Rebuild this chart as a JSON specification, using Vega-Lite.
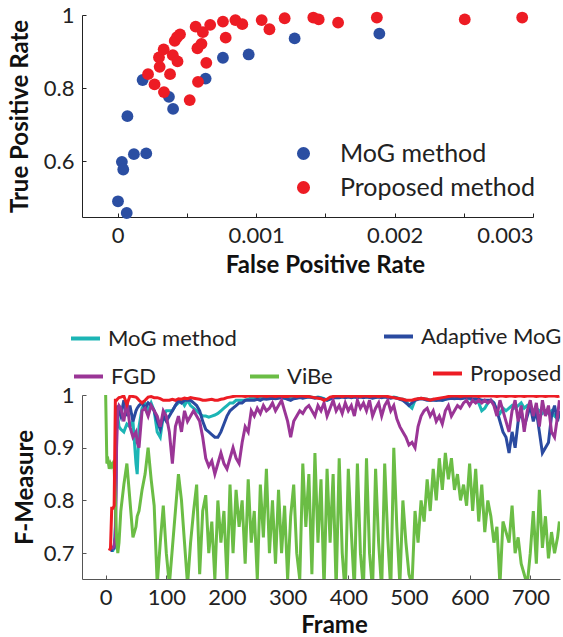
{
  "$schema": "https://vega.github.io/schema/vega-lite/v6.json",
  "padding": {"left": 8, "top": 4, "right": 0, "bottom": 0},
  "config": {
    "font": "Lato",
    "view": {"stroke": null},
    "axis": {"grid": false, "domainColor": "#222", "tickColor": "#222", "labelColor": "#222", "titleColor": "#111", "labelFont": "Lato", "titleFont": "Lato", "labelFontSize": 22, "titleFontSize": 24, "titleFontWeight": "bold", "tickSize": -4, "labelPadding": 12},
    "legend": {"padding": 0, "labelFont": "Lato", "labelColor": "#222", "labelLimit": 400}
  },
  "spacing": 43,
  "columns": 1,
  "concat": [
    {
      "width": 451,
      "height": 202,
      "data": {"values": [
        {"fpr": 0.00007, "tpr": 0.723, "m": "MoG method"},
        {"fpr": 0.00018, "tpr": 0.822, "m": "MoG method"},
        {"fpr": 0.00003, "tpr": 0.598, "m": "MoG method"},
        {"fpr": 0.00004, "tpr": 0.577, "m": "MoG method"},
        {"fpr": 0.000117, "tpr": 0.619, "m": "MoG method"},
        {"fpr": 0.000206, "tpr": 0.621, "m": "MoG method"},
        {"fpr": 0.000002, "tpr": 0.49, "m": "MoG method"},
        {"fpr": 0.000065, "tpr": 0.458, "m": "MoG method"},
        {"fpr": 0.00037, "tpr": 0.776, "m": "MoG method"},
        {"fpr": 0.0004, "tpr": 0.743, "m": "MoG method"},
        {"fpr": 0.000635, "tpr": 0.826, "m": "MoG method"},
        {"fpr": 0.00076, "tpr": 0.883, "m": "MoG method"},
        {"fpr": 0.000946, "tpr": 0.892, "m": "MoG method"},
        {"fpr": 0.001278, "tpr": 0.936, "m": "MoG method"},
        {"fpr": 0.00189, "tpr": 0.949, "m": "MoG method"},
        {"fpr": 0.000219, "tpr": 0.838, "m": "Proposed method"},
        {"fpr": 0.000266, "tpr": 0.81, "m": "Proposed method"},
        {"fpr": 0.000334, "tpr": 0.789, "m": "Proposed method"},
        {"fpr": 0.000303, "tpr": 0.858, "m": "Proposed method"},
        {"fpr": 0.000298, "tpr": 0.884, "m": "Proposed method"},
        {"fpr": 0.000332, "tpr": 0.906, "m": "Proposed method"},
        {"fpr": 0.000378, "tpr": 0.838, "m": "Proposed method"},
        {"fpr": 0.000398, "tpr": 0.89, "m": "Proposed method"},
        {"fpr": 0.000432, "tpr": 0.873, "m": "Proposed method"},
        {"fpr": 0.000412, "tpr": 0.929, "m": "Proposed method"},
        {"fpr": 0.000428, "tpr": 0.939, "m": "Proposed method"},
        {"fpr": 0.00045, "tpr": 0.947, "m": "Proposed method"},
        {"fpr": 0.00052, "tpr": 0.767, "m": "Proposed method"},
        {"fpr": 0.00058, "tpr": 0.817, "m": "Proposed method"},
        {"fpr": 0.000576, "tpr": 0.909, "m": "Proposed method"},
        {"fpr": 0.000605, "tpr": 0.921, "m": "Proposed method"},
        {"fpr": 0.00064, "tpr": 0.869, "m": "Proposed method"},
        {"fpr": 0.000563, "tpr": 0.968, "m": "Proposed method"},
        {"fpr": 0.000615, "tpr": 0.953, "m": "Proposed method"},
        {"fpr": 0.000668, "tpr": 0.973, "m": "Proposed method"},
        {"fpr": 0.00076, "tpr": 0.982, "m": "Proposed method"},
        {"fpr": 0.00078, "tpr": 0.938, "m": "Proposed method"},
        {"fpr": 0.00085, "tpr": 0.986, "m": "Proposed method"},
        {"fpr": 0.0009, "tpr": 0.975, "m": "Proposed method"},
        {"fpr": 0.00104, "tpr": 0.986, "m": "Proposed method"},
        {"fpr": 0.001096, "tpr": 0.961, "m": "Proposed method"},
        {"fpr": 0.001206, "tpr": 0.991, "m": "Proposed method"},
        {"fpr": 0.001413, "tpr": 0.993, "m": "Proposed method"},
        {"fpr": 0.001452, "tpr": 0.988, "m": "Proposed method"},
        {"fpr": 0.001592, "tpr": 0.979, "m": "Proposed method"},
        {"fpr": 0.001872, "tpr": 0.993, "m": "Proposed method"},
        {"fpr": 0.002507, "tpr": 0.988, "m": "Proposed method"},
        {"fpr": 0.002922, "tpr": 0.993, "m": "Proposed method"}
      ]},
      "mark": {"type": "circle", "size": 140, "opacity": 1},
      "encoding": {
        "x": {"field": "fpr", "type": "quantitative", "title": "False Positive Rate",
          "scale": {"domain": [-0.000258, 0.003], "nice": false, "zero": false},
          "axis": {"values": [0, 0.0005, 0.001, 0.0015, 0.002, 0.0025, 0.003], "labelExpr": "(round(datum.value*10000) % 10 == 0) ? format(datum.value, '.3~f') : ''", "titleX": 243, "titlePadding": 7}},
        "y": {"field": "tpr", "type": "quantitative", "title": "True Positive Rate",
          "scale": {"domain": [0.447, 1], "nice": false, "zero": false},
          "axis": {"values": [0.6, 0.8, 1], "format": ".1~f", "titlePadding": 11}},
        "color": {"field": "m", "type": "nominal",
          "scale": {"domain": ["MoG method", "Proposed method"], "range": ["#2b4ea2", "#ed1c24"]},
          "legend": {"orient": "none", "legendX": 209, "legendY": 126, "title": null, "labelFontSize": 25, "symbolSize": 170, "symbolType": "circle", "rowPadding": 8, "labelOffset": 24, "symbolStrokeWidth": 0}}
      }
    },
    {
      "width": 478,
      "height": 184,
      "data": {"values": [
        {"f": 0, "V": 1.0},
        {"f": 2, "V": 0.87},
        {"f": 4, "V": 0.875},
        {"f": 6, "V": 0.86, "P": 0.705},
        {"f": 8, "A": 0.705, "V": 0.87, "P": 0.71},
        {"f": 10, "M": 0.705, "A": 0.705, "G": 0.71, "V": 0.865, "P": 0.785},
        {"f": 12, "M": 0.705, "A": 0.71, "G": 0.71, "V": 0.87, "P": 0.785},
        {"f": 14, "M": 0.71, "A": 0.71, "G": 0.715, "V": 0.86, "P": 0.79},
        {"f": 16, "M": 0.75, "A": 0.73, "G": 0.73, "V": 0.8, "P": 0.99},
        {"f": 18, "M": 0.97, "A": 0.97, "G": 0.9, "V": 0.73, "P": 0.99},
        {"f": 20, "M": 0.96, "A": 0.98, "G": 0.97, "V": 0.7, "P": 0.993},
        {"f": 22, "M": 0.94, "A": 0.97, "G": 0.98, "V": 0.72, "P": 0.995},
        {"f": 25, "M": 0.935, "A": 0.96, "G": 0.975, "V": 0.78, "P": 0.996},
        {"f": 30, "M": 0.93, "A": 0.99, "G": 0.95, "V": 0.83, "P": 0.998},
        {"f": 35, "M": 0.945, "A": 0.96, "G": 0.99, "V": 0.87, "P": 0.982},
        {"f": 40, "M": 0.94, "A": 0.98, "G": 0.94, "V": 0.8, "P": 0.998},
        {"f": 45, "M": 0.95, "A": 0.95, "G": 0.92, "V": 0.73, "P": 0.997},
        {"f": 50, "M": 0.87, "A": 0.97, "G": 0.93, "V": 0.75, "P": 0.996},
        {"f": 52, "M": 0.85, "A": 0.975, "G": 0.91, "V": 0.77, "P": 0.994},
        {"f": 55, "M": 0.94, "A": 0.98, "G": 0.9, "V": 0.78, "P": 0.99},
        {"f": 60, "M": 0.975, "A": 0.985, "G": 0.97, "V": 0.82, "P": 0.985},
        {"f": 65, "M": 0.985, "A": 0.975, "G": 0.975, "V": 0.85, "P": 0.99},
        {"f": 70, "M": 0.97, "A": 0.985, "G": 0.96, "V": 0.9, "P": 0.996},
        {"f": 75, "M": 0.985, "A": 0.98, "G": 0.98, "V": 0.84, "P": 0.997},
        {"f": 80, "M": 0.97, "A": 0.97, "G": 0.97, "V": 0.79, "P": 0.995},
        {"f": 85, "M": 0.93, "A": 0.95, "G": 0.96, "V": 0.64, "P": 0.995},
        {"f": 90, "M": 0.92, "A": 0.935, "G": 0.94, "V": 0.72, "P": 0.993},
        {"f": 95, "M": 0.96, "A": 0.96, "G": 0.97, "V": 0.79, "P": 0.99},
        {"f": 100, "M": 0.97, "A": 0.95, "G": 0.96, "V": 0.7, "P": 0.99},
        {"f": 105, "M": 0.97, "A": 0.96, "G": 0.93, "V": 0.64, "P": 0.99},
        {"f": 110, "M": 0.97, "A": 0.97, "G": 0.87, "V": 0.71, "P": 0.992},
        {"f": 115, "M": 0.98, "A": 0.98, "G": 0.94, "V": 0.78, "P": 0.99},
        {"f": 120, "M": 0.985, "A": 0.99, "G": 0.96, "V": 0.85, "P": 0.993},
        {"f": 125, "M": 0.99, "A": 0.985, "G": 0.93, "V": 0.8, "P": 0.992},
        {"f": 130, "M": 0.98, "A": 0.99, "G": 0.97, "V": 0.72, "P": 0.994},
        {"f": 135, "M": 0.99, "A": 0.99, "G": 0.95, "V": 0.64, "P": 0.993},
        {"f": 140, "M": 0.98, "A": 0.99, "G": 0.96, "V": 0.72, "P": 0.995},
        {"f": 145, "M": 0.975, "A": 0.985, "G": 0.97, "V": 0.78, "P": 0.994},
        {"f": 150, "M": 0.97, "A": 0.98, "G": 0.96, "V": 0.83, "P": 0.993},
        {"f": 155, "M": 0.965, "A": 0.97, "G": 0.95, "V": 0.66, "P": 0.992},
        {"f": 160, "M": 0.96, "A": 0.95, "G": 0.92, "V": 0.78, "P": 0.99},
        {"f": 165, "M": 0.96, "A": 0.935, "G": 0.88, "V": 0.81, "P": 0.99},
        {"f": 170, "M": 0.958, "A": 0.93, "G": 0.865, "V": 0.7, "P": 0.991},
        {"f": 175, "M": 0.96, "A": 0.925, "G": 0.875, "V": 0.76, "P": 0.992},
        {"f": 180, "M": 0.962, "A": 0.92, "G": 0.85, "V": 0.65, "P": 0.99},
        {"f": 185, "M": 0.965, "A": 0.92, "G": 0.87, "V": 0.8, "P": 0.99},
        {"f": 190, "M": 0.97, "A": 0.93, "G": 0.89, "V": 0.72, "P": 0.992},
        {"f": 195, "M": 0.975, "A": 0.945, "G": 0.87, "V": 0.78, "P": 0.993},
        {"f": 200, "M": 0.98, "A": 0.96, "G": 0.86, "V": 0.65, "P": 0.995},
        {"f": 205, "M": 0.985, "A": 0.97, "G": 0.88, "V": 0.83, "P": 0.996},
        {"f": 210, "M": 0.985, "A": 0.975, "G": 0.9, "V": 0.7, "P": 0.997},
        {"f": 215, "M": 0.99, "A": 0.98, "G": 0.88, "V": 0.82, "P": 0.998},
        {"f": 220, "M": 0.99, "A": 0.985, "G": 0.87, "V": 0.75, "P": 0.998},
        {"f": 225, "M": 0.99, "A": 0.985, "G": 0.91, "V": 0.8, "P": 0.998},
        {"f": 230, "M": 0.99, "A": 0.99, "G": 0.94, "V": 0.68, "P": 0.997},
        {"f": 235, "M": 0.992, "A": 0.99, "G": 0.93, "V": 0.84, "P": 0.998},
        {"f": 240, "M": 0.995, "A": 0.99, "G": 0.97, "V": 0.72, "P": 0.998},
        {"f": 245, "M": 0.993, "A": 0.99, "G": 0.96, "V": 0.78, "P": 0.998},
        {"f": 250, "M": 0.995, "A": 0.992, "G": 0.975, "V": 0.65, "P": 0.997},
        {"f": 255, "M": 0.994, "A": 0.99, "G": 0.965, "V": 0.83, "P": 0.998},
        {"f": 260, "M": 0.995, "A": 0.993, "G": 0.98, "V": 0.73, "P": 0.998},
        {"f": 265, "M": 0.996, "A": 0.992, "G": 0.97, "V": 0.86, "P": 0.997},
        {"f": 270, "M": 0.995, "A": 0.993, "G": 0.975, "V": 0.7, "P": 0.998},
        {"f": 275, "M": 0.996, "A": 0.994, "G": 0.985, "V": 0.8, "P": 0.998},
        {"f": 280, "M": 0.995, "A": 0.993, "G": 0.97, "V": 0.68, "P": 0.997},
        {"f": 285, "M": 0.996, "A": 0.994, "G": 0.98, "V": 0.82, "P": 0.998},
        {"f": 290, "M": 0.995, "A": 0.995, "G": 0.99, "V": 0.7, "P": 0.998},
        {"f": 295, "M": 0.994, "A": 0.994, "G": 0.97, "V": 0.79, "P": 0.997},
        {"f": 300, "M": 0.993, "A": 0.992, "G": 0.95, "V": 0.65, "P": 0.997},
        {"f": 305, "M": 0.995, "A": 0.99, "G": 0.92, "V": 0.77, "P": 0.998},
        {"f": 310, "M": 0.996, "A": 0.993, "G": 0.95, "V": 0.83, "P": 0.998},
        {"f": 315, "M": 0.995, "A": 0.994, "G": 0.96, "V": 0.7, "P": 0.997},
        {"f": 320, "M": 0.996, "A": 0.995, "G": 0.97, "V": 0.65, "P": 0.998},
        {"f": 325, "M": 0.995, "A": 0.994, "G": 0.965, "V": 0.87, "P": 0.998},
        {"f": 330, "M": 0.996, "A": 0.995, "G": 0.975, "V": 0.75, "P": 0.997},
        {"f": 335, "M": 0.997, "A": 0.996, "G": 0.98, "V": 0.85, "P": 0.997},
        {"f": 340, "M": 0.996, "A": 0.995, "G": 0.97, "V": 0.66, "P": 0.996},
        {"f": 345, "M": 0.995, "A": 0.994, "G": 0.96, "V": 0.89, "P": 0.995},
        {"f": 350, "M": 0.996, "A": 0.995, "G": 0.98, "V": 0.72, "P": 0.994},
        {"f": 355, "M": 0.995, "A": 0.994, "G": 0.97, "V": 0.84, "P": 0.993},
        {"f": 360, "M": 0.993, "A": 0.992, "G": 0.985, "V": 0.63, "P": 0.99},
        {"f": 365, "M": 0.99, "A": 0.99, "G": 0.96, "V": 0.86, "P": 0.992},
        {"f": 370, "M": 0.993, "A": 0.992, "G": 0.975, "V": 0.72, "P": 0.996},
        {"f": 375, "M": 0.996, "A": 0.995, "G": 0.99, "V": 0.85, "P": 0.997},
        {"f": 380, "M": 0.997, "A": 0.995, "G": 0.97, "V": 0.63, "P": 0.998},
        {"f": 385, "M": 0.996, "A": 0.995, "G": 0.98, "V": 0.88, "P": 0.998},
        {"f": 390, "M": 0.997, "A": 0.996, "G": 0.965, "V": 0.7, "P": 0.997},
        {"f": 395, "M": 0.996, "A": 0.995, "G": 0.985, "V": 0.62, "P": 0.998},
        {"f": 400, "M": 0.997, "A": 0.996, "G": 0.97, "V": 0.86, "P": 0.998},
        {"f": 405, "M": 0.996, "A": 0.995, "G": 0.98, "V": 0.74, "P": 0.997},
        {"f": 410, "M": 0.997, "A": 0.996, "G": 0.96, "V": 0.63, "P": 0.998},
        {"f": 415, "M": 0.996, "A": 0.995, "G": 0.99, "V": 0.87, "P": 0.998},
        {"f": 420, "M": 0.997, "A": 0.996, "G": 0.975, "V": 0.7, "P": 0.997},
        {"f": 425, "M": 0.996, "A": 0.995, "G": 0.985, "V": 0.63, "P": 0.998},
        {"f": 430, "M": 0.997, "A": 0.996, "G": 0.97, "V": 0.88, "P": 0.998},
        {"f": 435, "M": 0.996, "A": 0.995, "G": 0.99, "V": 0.7, "P": 0.997},
        {"f": 440, "M": 0.995, "A": 0.994, "G": 0.96, "V": 0.63, "P": 0.998},
        {"f": 445, "M": 0.996, "A": 0.995, "G": 0.975, "V": 0.86, "P": 0.998},
        {"f": 450, "M": 0.997, "A": 0.996, "G": 0.985, "V": 0.72, "P": 0.997},
        {"f": 455, "M": 0.996, "A": 0.995, "G": 0.96, "V": 0.63, "P": 0.998},
        {"f": 460, "M": 0.997, "A": 0.996, "G": 0.98, "V": 0.87, "P": 0.998},
        {"f": 465, "M": 0.996, "A": 0.995, "G": 0.99, "V": 0.73, "P": 0.997},
        {"f": 470, "M": 0.995, "A": 0.994, "G": 0.97, "V": 0.63, "P": 0.996},
        {"f": 475, "M": 0.996, "A": 0.995, "G": 0.98, "V": 0.9, "P": 0.995},
        {"f": 480, "M": 0.995, "A": 0.994, "G": 0.955, "V": 0.75, "P": 0.994},
        {"f": 485, "M": 0.993, "A": 0.992, "G": 0.94, "V": 0.64, "P": 0.993},
        {"f": 490, "M": 0.992, "A": 0.99, "G": 0.93, "V": 0.8, "P": 0.992},
        {"f": 495, "M": 0.99, "A": 0.985, "G": 0.92, "V": 0.72, "P": 0.99},
        {"f": 500, "M": 0.98, "A": 0.98, "G": 0.905, "V": 0.66, "P": 0.99},
        {"f": 505, "M": 0.975, "A": 0.985, "G": 0.91, "V": 0.64, "P": 0.99},
        {"f": 510, "M": 0.99, "A": 0.99, "G": 0.9, "V": 0.78, "P": 0.992},
        {"f": 515, "M": 0.993, "A": 0.992, "G": 0.94, "V": 0.72, "P": 0.993},
        {"f": 520, "M": 0.994, "A": 0.993, "G": 0.96, "V": 0.8, "P": 0.994},
        {"f": 525, "M": 0.993, "A": 0.992, "G": 0.97, "V": 0.76, "P": 0.993},
        {"f": 530, "M": 0.992, "A": 0.99, "G": 0.975, "V": 0.84, "P": 0.992},
        {"f": 535, "M": 0.99, "A": 0.99, "G": 0.96, "V": 0.78, "P": 0.99},
        {"f": 540, "M": 0.992, "A": 0.99, "G": 0.97, "V": 0.86, "P": 0.992},
        {"f": 545, "M": 0.99, "A": 0.99, "G": 0.95, "V": 0.8, "P": 0.993},
        {"f": 550, "M": 0.993, "A": 0.99, "G": 0.96, "V": 0.88, "P": 0.994},
        {"f": 555, "M": 0.99, "A": 0.99, "G": 0.945, "V": 0.82, "P": 0.995},
        {"f": 560, "M": 0.992, "A": 0.992, "G": 0.97, "V": 0.89, "P": 0.996},
        {"f": 565, "M": 0.994, "A": 0.993, "G": 0.98, "V": 0.84, "P": 0.997},
        {"f": 570, "M": 0.995, "A": 0.994, "G": 0.96, "V": 0.88, "P": 0.998},
        {"f": 575, "M": 0.994, "A": 0.993, "G": 0.97, "V": 0.82, "P": 0.998},
        {"f": 580, "M": 0.995, "A": 0.994, "G": 0.98, "V": 0.85, "P": 0.998},
        {"f": 585, "M": 0.994, "A": 0.993, "G": 0.975, "V": 0.8, "P": 0.997},
        {"f": 590, "M": 0.995, "A": 0.994, "G": 0.985, "V": 0.83, "P": 0.998},
        {"f": 595, "M": 0.994, "A": 0.995, "G": 0.99, "V": 0.79, "P": 0.998},
        {"f": 600, "M": 0.993, "A": 0.994, "G": 0.98, "V": 0.87, "P": 0.998},
        {"f": 605, "M": 0.99, "A": 0.993, "G": 0.99, "V": 0.78, "P": 0.998},
        {"f": 610, "M": 0.99, "A": 0.993, "G": 0.985, "V": 0.86, "P": 0.998},
        {"f": 615, "M": 0.985, "A": 0.992, "G": 0.99, "V": 0.76, "P": 0.997},
        {"f": 620, "M": 0.97, "A": 0.99, "G": 0.985, "V": 0.83, "P": 0.998},
        {"f": 625, "M": 0.975, "A": 0.99, "G": 0.99, "V": 0.74, "P": 0.998},
        {"f": 630, "M": 0.985, "A": 0.99, "G": 0.985, "V": 0.8, "P": 0.998},
        {"f": 635, "M": 0.99, "A": 0.99, "G": 0.99, "V": 0.77, "P": 0.998},
        {"f": 640, "M": 0.985, "A": 0.985, "G": 0.98, "V": 0.72, "P": 0.998},
        {"f": 645, "M": 0.97, "A": 0.97, "G": 0.96, "V": 0.75, "P": 0.997},
        {"f": 650, "M": 0.965, "A": 0.95, "G": 0.99, "V": 0.64, "P": 0.998},
        {"f": 655, "M": 0.975, "A": 0.93, "G": 0.97, "V": 0.76, "P": 0.998},
        {"f": 660, "M": 0.97, "A": 0.92, "G": 0.95, "V": 0.74, "P": 0.997},
        {"f": 665, "M": 0.975, "A": 0.89, "G": 0.93, "V": 0.72, "P": 0.998},
        {"f": 670, "M": 0.98, "A": 0.93, "G": 0.97, "V": 0.79, "P": 0.998},
        {"f": 675, "M": 0.975, "A": 0.9, "G": 0.99, "V": 0.7, "P": 0.997},
        {"f": 680, "M": 0.98, "A": 0.95, "G": 0.95, "V": 0.73, "P": 0.998},
        {"f": 685, "M": 0.985, "A": 0.97, "G": 0.98, "V": 0.68, "P": 0.998},
        {"f": 690, "M": 0.975, "A": 0.94, "G": 0.93, "V": 0.66, "P": 0.997},
        {"f": 695, "M": 0.98, "A": 0.96, "G": 0.97, "V": 0.64, "P": 0.998},
        {"f": 700, "M": 0.975, "A": 0.98, "G": 0.99, "V": 0.7, "P": 0.998},
        {"f": 705, "M": 0.97, "A": 0.95, "G": 0.96, "V": 0.78, "P": 0.998},
        {"f": 710, "M": 0.975, "A": 0.97, "G": 0.985, "V": 0.68, "P": 0.997},
        {"f": 715, "M": 0.97, "A": 0.93, "G": 0.94, "V": 0.82, "P": 0.998},
        {"f": 720, "M": 0.965, "A": 0.89, "G": 0.99, "V": 0.71, "P": 0.998},
        {"f": 725, "M": 0.97, "A": 0.9, "G": 0.96, "V": 0.77, "P": 0.997},
        {"f": 730, "M": 0.965, "A": 0.91, "G": 0.98, "V": 0.69, "P": 0.998},
        {"f": 735, "M": 0.97, "A": 0.96, "G": 0.93, "V": 0.74, "P": 0.998},
        {"f": 740, "M": 0.96, "A": 0.98, "G": 0.92, "V": 0.7, "P": 0.998},
        {"f": 745, "M": 0.955, "A": 0.95, "G": 0.96, "V": 0.73, "P": 0.997},
        {"f": 748, "M": 0.96, "A": 0.97, "G": 0.99, "V": 0.76, "P": 0.998}
      ]},
      "encoding": {
        "x": {"field": "f", "type": "quantitative", "title": "Frame",
          "scale": {"domain": [-39, 749], "nice": false, "zero": false},
          "axis": {"values": [0, 100, 200, 300, 400, 500, 600, 700], "titleX": 252, "titlePadding": 5, "domainColor": "#555", "tickColor": "#555"}}
      },
      "layer": [
        {"mark": {"type": "line", "strokeWidth": 3, "clip": true},
          "encoding": {
            "y": {"field": "M", "type": "quantitative", "title": "F-Measure", "scale": {"domain": [0.651, 1], "nice": false, "zero": false},
              "axis": {"values": [0.7, 0.8, 0.9, 1], "format": ".1~f", "titlePadding": 6, "domainColor": "#555", "tickColor": "#555"}},
            "color": {"datum": "MoG method", "scale": {"range": ["#1cb5b5"]},
              "legend": {"orient": "none", "legendX": -13, "legendY": -73, "title": null, "labelFontSize": 22, "symbolType": "stroke", "symbolSize": 841, "symbolStrokeWidth": 4, "labelOffset": 6}}
          }},
        {"mark": {"type": "line", "strokeWidth": 3, "clip": true},
          "encoding": {
            "y": {"field": "A", "type": "quantitative", "title": "F-Measure"},
            "color": {"datum": "Adaptive MoG", "scale": {"range": ["#2a4aa0"]},
              "legend": {"orient": "none", "legendX": 300, "legendY": -75, "title": null, "labelFontSize": 22, "symbolType": "stroke", "symbolSize": 841, "symbolStrokeWidth": 4, "labelOffset": 6}}
          }},
        {"mark": {"type": "line", "strokeWidth": 3, "clip": true},
          "encoding": {
            "y": {"field": "G", "type": "quantitative", "title": "F-Measure"},
            "color": {"datum": "FGD", "scale": {"range": ["#9a3596"]},
              "legend": {"orient": "none", "legendX": -10, "legendY": -35, "title": null, "labelFontSize": 22, "symbolType": "stroke", "symbolSize": 841, "symbolStrokeWidth": 4, "labelOffset": 6}}
          }},
        {"mark": {"type": "line", "strokeWidth": 3, "clip": true},
          "encoding": {
            "y": {"field": "V", "type": "quantitative", "title": "F-Measure"},
            "color": {"datum": "ViBe", "scale": {"range": ["#6bbd45"]},
              "legend": {"orient": "none", "legendX": 166, "legendY": -35, "title": null, "labelFontSize": 22, "symbolType": "stroke", "symbolSize": 841, "symbolStrokeWidth": 4, "labelOffset": 6}}
          }},
        {"mark": {"type": "line", "strokeWidth": 3, "clip": true},
          "encoding": {
            "y": {"field": "P", "type": "quantitative", "title": "F-Measure"},
            "color": {"datum": "Proposed", "scale": {"range": ["#ed1c24"]},
              "legend": {"orient": "none", "legendX": 349, "legendY": -38, "title": null, "labelFontSize": 22, "symbolType": "stroke", "symbolSize": 841, "symbolStrokeWidth": 4, "labelOffset": 6}}
          }}
      ],
      "resolve": {"scale": {"color": "independent"}}
    }
  ]
}
